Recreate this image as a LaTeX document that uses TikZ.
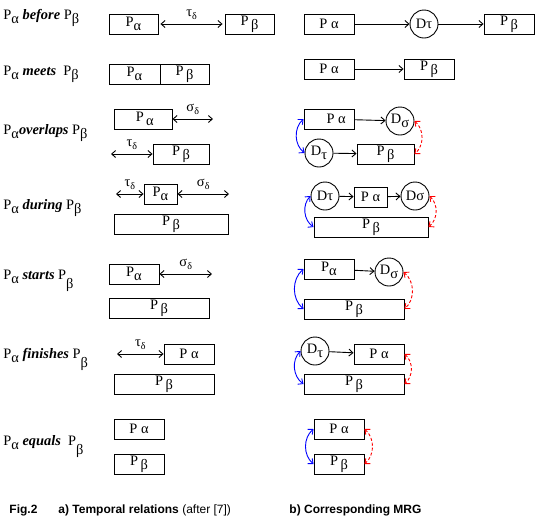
\documentclass[tikz,border=0pt]{standalone}
\usepackage{fontspec}
\setmainfont{Liberation Serif}
\newfontfamily\capfont{Liberation Sans}
\usetikzlibrary{arrows.meta}

% lowered greek index, nearly full size as in the scan
\newcommand{\lo}[1]{\raisebox{-4pt}{#1}}
\newcommand{\dl}[1]{#1\raisebox{-3pt}{\fontsize{10}{10}\selectfont δ}}

\tikzset{
  period/.style={draw, minimum height=20pt, inner sep=1pt},
  delay/.style={draw, circle, minimum size=28pt, inner sep=0pt},
  relname/.style={anchor=west, inner sep=0pt},
  lapse/.style={<->},
  link/.style={->},
  fwdlink/.style={<->, blue, bend right=50},
  bwdlink/.style={<->, red, dash pattern=on 3pt off 2pt, bend left=50},
}

\begin{document}
\begin{tikzpicture}[x=1pt, y=-1pt, line width=0.9pt,
    >={Straight Barb[length=4pt,width=7pt]},
    font=\fontsize{14.4}{17}\selectfont]
    \useasboundingbox (0,0) rectangle (546,531);

    % before
    \node[relname] (relBefore) at (3,18) {P\lo{α} \textbf{\textit{before}} P\lo{β}};
    \node[period, minimum width=49pt] (aBefore) at (133.5,24) {P\lo{α}};
    \node[period, minimum width=49pt] (bBefore) at (249.5,24) {P\,\lo{β}};
    \draw[lapse] ([xshift=2pt]aBefore.east) -- node[above=1pt] {\dl{τ}} ([xshift=-2pt]bBefore.west);
    \node[period, minimum width=50pt] (gaBefore) at (329,24) {P α};
    \node[delay] (gdBefore) at (424,24) {Dτ};
    \node[period, minimum width=50pt] (gbBefore) at (509,24) {P\,\lo{β}};
    \draw[link] (gaBefore) -- (gdBefore);
    \draw[link] (gdBefore) -- (gbBefore);

    % meets
    \node[relname] (relMeets) at (3,74) {P\lo{α} \textbf{\textit{meets}}\enspace P\lo{β}};
    \node[period, minimum width=51pt] (aMeets) at (134.5,74) {P\lo{α}};
    \node[period, minimum width=49pt] (bMeets) at (184.5,74) {P\,\lo{β}};
    \node[period, minimum width=50pt] (gaMeets) at (329,69) {P α};
    \node[period, minimum width=50pt] (gbMeets) at (429,69) {P\,\lo{β}};
    \draw[link] (gaMeets) -- (gbMeets);

    % overlaps
    \node[relname] (relOverlaps) at (3,133) {P\lo{α}\textbf{\textit{overlaps}} P\lo{β}};
    \node[period, minimum width=58pt] (aOverlaps) at (143,119) {\ P\,\lo{α}};
    \coordinate (sOverlaps) at (213,119);
    \draw[lapse] (aOverlaps.east) -- node[above=1pt] {\dl{σ}} (sOverlaps);
    \node[period, minimum width=56pt] (bOverlaps) at (181,154) {P\,\lo{β}};
    \coordinate (tOverlaps) at (111,154);
    \draw[lapse] (tOverlaps) -- node[above=1pt] {\dl{τ}} (bOverlaps.west);
    \node[period, minimum width=50pt] (gaOverlaps) at (329,119) {\quad P α};
    \node[delay] (gsOverlaps) at (400,121) {D\lo{σ}};
    \node[delay] (gtOverlaps) at (319,153) {D\lo{τ}};
    \node[period, minimum width=57pt] (gbOverlaps) at (385.5,154) {P\,\lo{β}};
    \draw[link] (gaOverlaps) -- (gsOverlaps);
    \draw[link] (gtOverlaps) -- (gbOverlaps);
    \draw[fwdlink] (gaOverlaps.west) to (gtOverlaps.west);
    \draw[bwdlink] (gsOverlaps.east) to (gbOverlaps.east);

    % during
    \node[relname] (relDuring) at (3,208) {P\lo{α} \textbf{\textit{during}} P\lo{β}};
    \node[period, minimum width=33pt] (aDuring) at (160.5,194) {P\lo{α}};
    \coordinate (tDuring) at (116,194);
    \coordinate (sDuring) at (229,194);
    \draw[lapse] (tDuring) -- node[above=1pt] {\dl{τ}} (aDuring.west);
    \draw[lapse] (aDuring.east) -- node[above=1pt] {\dl{σ}} (sDuring);
    \node[period, minimum width=114pt] (bDuring) at (171,224) {P\,\lo{β}};
    \node[delay] (gtDuring) at (325,196) {Dτ};
    \node[period, minimum width=33pt] (gaDuring) at (370.5,197) {P α};
    \node[delay] (gsDuring) at (415,196) {Dσ};
    \node[period, minimum width=114pt] (gbDuring) at (371,227) {P\,\lo{β}};
    \draw[link] (gtDuring) -- (gaDuring);
    \draw[link] (gaDuring) -- (gsDuring);
    \draw[fwdlink] (gtDuring.west) to (gbDuring.west);
    \draw[bwdlink] (gsDuring.east) to (gbDuring.east);

    % starts
    \node[relname] (relStarts) at (3,281) {P\lo{α} \textbf{\textit{starts}} P\raisebox{-5pt}{\lo{β}}};
    \node[period, minimum width=50pt] (aStarts) at (134,274) {P\lo{α}};
    \coordinate (sStarts) at (212,274);
    \draw[lapse] (aStarts.east) -- node[above=1pt] {\dl{σ}} (sStarts);
    \node[period, minimum width=100pt] (bStarts) at (159,308) {P\,\lo{β}};
    \node[period, minimum width=50pt] (gaStarts) at (329,269) {P\lo{α}};
    \node[delay] (gsStarts) at (389,272) {D\lo{σ}};
    \node[period, minimum width=100pt] (gbStarts) at (354,309) {P\,\lo{β}};
    \draw[link] (gaStarts) -- (gsStarts);
    \draw[fwdlink] (gaStarts.west) to (gbStarts.west);
    \draw[bwdlink] (gsStarts.east) to (gbStarts.east);

    % finishes
    \node[relname] (relFinishes) at (3,359) {P\lo{α} \textbf{\textit{finishes}} P\raisebox{-5pt}{\lo{β}}};
    \node[period, minimum width=50pt] (aFinishes) at (189,354) {P α};
    \coordinate (tFinishes) at (117,354);
    \draw[lapse] (tFinishes) -- node[above=1pt] {\dl{τ}} (aFinishes.west);
    \node[period, minimum width=100pt] (bFinishes) at (164,384) {P\,\lo{β}};
    \node[delay] (gtFinishes) at (315,351) {D\lo{τ}};
    \node[period, minimum width=50pt] (gaFinishes) at (379,354) {P α};
    \node[period, minimum width=100pt] (gbFinishes) at (354,384) {P\,\lo{β}};
    \draw[link] (gtFinishes) -- (gaFinishes);
    \draw[fwdlink] (gtFinishes.west) to (gbFinishes.west);
    \draw[bwdlink] (gaFinishes.east) to (gbFinishes.east);

    % equals
    \node[relname] (relEquals) at (3,447) {P\lo{α} \textbf{\textit{equals}}\enspace P\raisebox{-5pt}{\lo{β}}};
    \node[period, minimum width=50pt] (aEquals) at (139,429) {P α};
    \node[period, minimum width=50pt] (bEquals) at (139,464) {P\,\lo{β}};
    \node[period, minimum width=50pt] (gaEquals) at (339,429) {P α};
    \node[period, minimum width=50pt] (gbEquals) at (339,464) {P\,\lo{β}};
    \draw[fwdlink] (gaEquals.west) to (gbEquals.west);
    \draw[bwdlink] (gaEquals.east) to (gbEquals.east);

    % captions
    \node[relname, font=\capfont\fontsize{12}{14}\selectfont\bfseries] (figCap) at (9,510) {Fig.2};
    \node[relname, font=\capfont\fontsize{12}{14}\selectfont] (capA) at (58,510) {\textbf{a) Temporal relations} (after [7])};
    \node[relname, font=\capfont\fontsize{12}{14}\selectfont\bfseries] (capB) at (289,510) {b) Corresponding MRG};
\end{tikzpicture}
\end{document}
